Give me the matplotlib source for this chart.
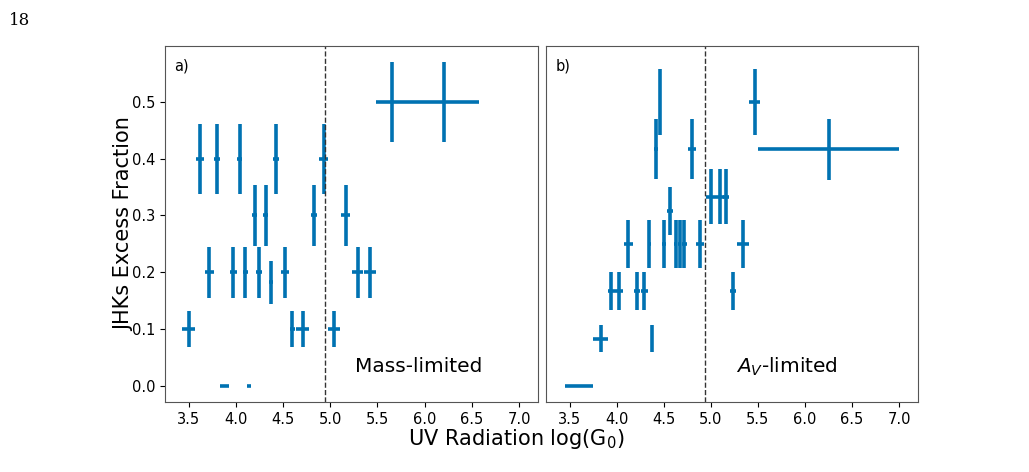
import numpy as np
import matplotlib
matplotlib.use('Agg')
import matplotlib.pyplot as plt

# panel a) mass-limited sample
a_x    = [3.50, 3.62, 3.72, 3.80, 3.88, 3.975, 4.04, 4.10, 4.14, 4.20, 4.25,
          4.315, 4.37, 4.43, 4.52, 4.60, 4.71, 4.83, 4.93, 5.04, 5.165,
          5.29, 5.42, 5.655, 6.20]
a_y    = [0.10, 0.40, 0.20, 0.40, 0.00, 0.20, 0.40, 0.20, 0.00, 0.30, 0.20,
          0.30, 0.182, 0.40, 0.20, 0.10, 0.10, 0.30, 0.40, 0.10, 0.30,
          0.20, 0.20, 0.50, 0.50]
a_xerr = [0.067, 0.046, 0.046, 0.035, 0.044, 0.040, 0.027, 0.028, 0.018, 0.025, 0.032,
          0.025, 0.020, 0.032, 0.046, 0.028, 0.070, 0.035, 0.046, 0.064, 0.048,
          0.062, 0.060, 0.173, 0.371]
a_yerr = [0.031, 0.062, 0.045, 0.062, 0.0, 0.045, 0.062, 0.045, 0.0, 0.054, 0.045,
          0.054, 0.038, 0.062, 0.045, 0.031, 0.031, 0.054, 0.062, 0.031, 0.054,
          0.045, 0.045, 0.070, 0.070]

# panel b) A_V-limited sample
b_x    = [3.60, 3.83, 3.944, 4.025, 4.124, 4.217, 4.295, 4.348, 4.38, 4.415,
          4.46, 4.507, 4.568, 4.628, 4.67, 4.72, 4.80, 4.89, 4.997, 5.093,
          5.164, 5.236, 5.34, 5.468, 6.25]
b_y    = [0.0, 1/12, 1/6, 1/6, 0.25, 1/6, 1/6, 0.25, 1/12, 5/12,
          0.50, 0.25, 4/13, 0.25, 0.25, 0.25, 5/12, 0.25, 1/3, 1/3,
          1/3, 1/6, 0.25, 0.50, 5/12]
b_xerr = [0.150, 0.076, 0.034, 0.040, 0.050, 0.032, 0.035, 0.015, 0.0, 0.023,
          0.010, 0.020, 0.032, 0.018, 0.018, 0.028, 0.039, 0.043, 0.050, 0.043,
          0.032, 0.035, 0.064, 0.057, 0.75]
b_yerr = [0.0, 0.023, 0.034, 0.034, 0.042, 0.034, 0.034, 0.042, 0.023, 0.053,
          0.058, 0.042, 0.042, 0.042, 0.042, 0.042, 0.053, 0.042, 0.048, 0.048,
          0.048, 0.034, 0.042, 0.058, 0.054]

CUT = 4.94
COLOR = '#0072B2'

fig = plt.figure(figsize=(10.29, 4.72), dpi=100)
ax_a = fig.add_axes([0.1603, 0.1483, 0.3625, 0.7542])
ax_b = fig.add_axes([0.5306, 0.1483, 0.3615, 0.7542], sharey=ax_a)

panels = [(ax_a, a_x, a_y, a_xerr, a_yerr, 'a)', 'Mass-limited'),
          (ax_b, b_x, b_y, b_xerr, b_yerr, 'b)', r'$A_V$-limited')]

for ax, x, y, xe, ye, tag, label in panels:
    ax.errorbar(x, y, xerr=xe, yerr=ye, fmt='none', ecolor=COLOR,
                elinewidth=2.6, capsize=0)
    ax.axvline(CUT, color='#333333', ls='--', lw=1.0)
    ax.set_xlim(3.25, 7.2)
    ax.set_xticks(np.arange(3.5, 7.01, 0.5))
    ax.tick_params(labelsize=10.5)
    ax.text(0.025, 0.965, tag, transform=ax.transAxes, fontsize=10.5,
            va='top', ha='left')
    ax.text(0.51, 0.1, label, transform=ax.transAxes, fontsize=14.5,
            va='center', ha='left')
    for s in ax.spines.values():
        s.set_color('#555555')

ax_a.set_ylim(-0.0285, 0.5985)
ax_a.set_yticks(np.arange(0, 0.51, 0.1))
ax_b.tick_params(left=False, labelleft=False)
ax_a.set_ylabel('JHKs Excess Fraction', fontsize=15, labelpad=-1.5)

fig.text(0.5015, 0.07, r'UV Radiation log(G$_0$)', fontsize=15,
         ha='center', va='center')
fig.text(0.009, 0.975, '18', fontsize=12, family='DejaVu Serif',
         ha='left', va='top')

fig.savefig('out.png', dpi=100, facecolor='white')
